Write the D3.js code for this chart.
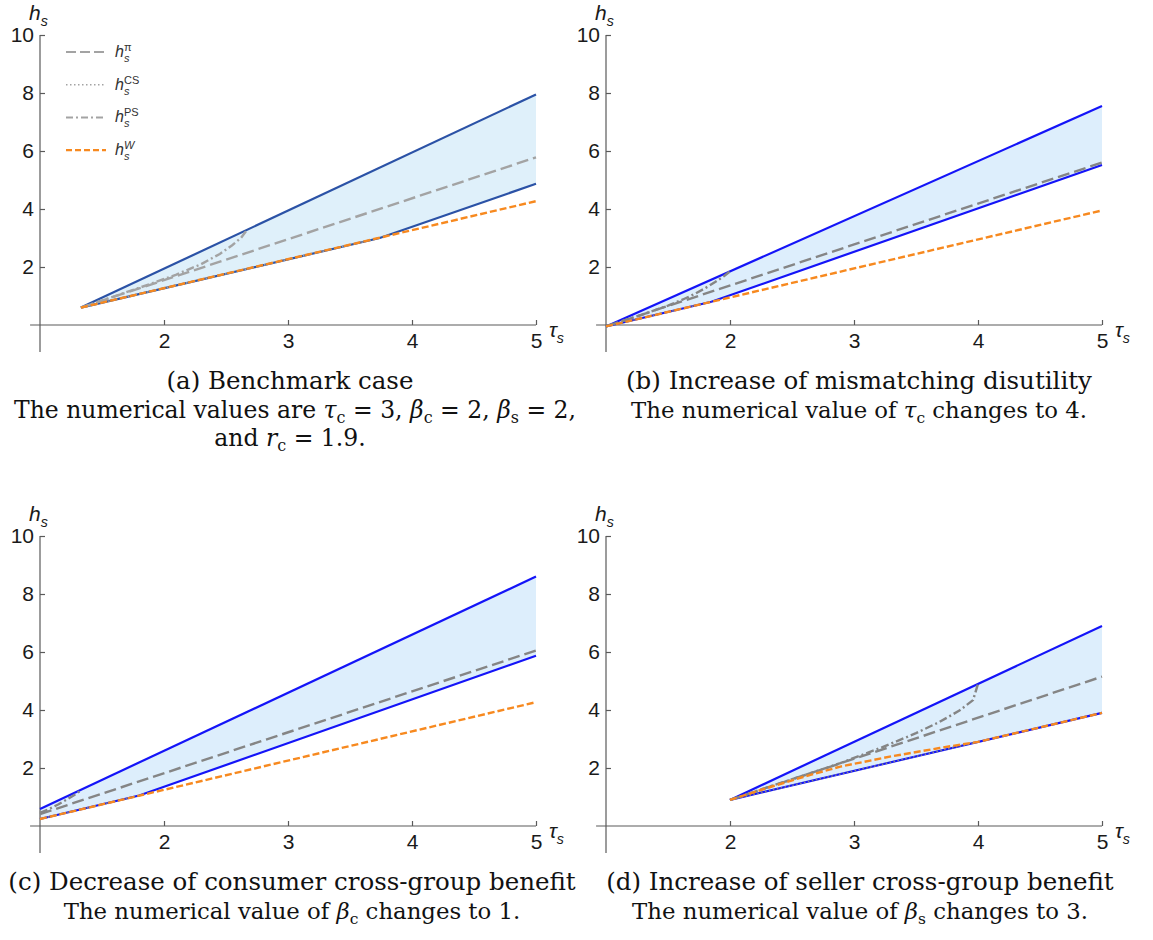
<!DOCTYPE html>
<html><head><meta charset="utf-8">
<script src="https://cdn.jsdelivr.net/npm/d3@7"></script>
<style>body{margin:0;background:#fff}</style>
</head><body>
<svg id="chart" width="1153" height="940"></svg>
<script>
// ---------- DATA ----------
const xTicks = [2, 3, 4, 5];
const yTicks = [2, 4, 6, 8, 10];

// Panel (a) benchmark
const tauA_up = [1.33, 5],        hA_up = [0.6, 7.95];
const tauA_lo = [1.33, 3.74, 5],  hA_lo = [0.6, 3.0, 4.87];
const tauA_pi = [1.33, 5],        hA_pi = [0.6, 5.78];
const tauA_cs = [1.33, 3.74],     hA_cs = [0.6, 3.0];
const tauA_ps = [1.33, 1.6, 1.9, 2.1, 2.3, 2.45, 2.55, 2.62, 2.67];
const hA_ps   = [0.6, 0.99, 1.43, 1.74, 2.1, 2.45, 2.75, 3.0, 3.28];
const tauA_w  = [1.33, 5],        hA_w = [0.6, 4.27];

// Panel (b) tau_c = 4
const tauB_up = [1, 5],           hB_up = [-0.05, 7.55];
const tauB_lo = [1, 1.85, 5],     hB_lo = [-0.05, 0.8, 5.52];
const tauB_pi = [1, 5],           hB_pi = [-0.05, 5.6];
const tauB_cs = [1, 1.85],        hB_cs = [-0.05, 0.8];
const tauB_ps = [1, 1.3, 1.5, 1.62, 1.72, 1.8, 1.88, 1.95, 2.0];
const hB_ps   = [-0.05, 0.37, 0.67, 0.88, 1.08, 1.27, 1.48, 1.68, 1.85];
const tauB_w  = [1, 5],           hB_w = [-0.05, 3.95];

// Panel (c) beta_c = 1
const tauC_up = [1, 5],           hC_up = [0.59, 8.6];
const tauC_lo = [1, 1.8, 5],      hC_lo = [0.24, 1.05, 5.87];
const tauC_pi = [1, 5],           hC_pi = [0.41, 6.05];
const tauC_cs = [1, 1.8],         hC_cs = [0.24, 1.05];
const tauC_ps = [1, 1.08, 1.15, 1.22, 1.28, 1.32];
const hC_ps   = [0.45, 0.6, 0.75, 0.92, 1.08, 1.2];
const tauC_w  = [1, 5],           hC_w = [0.24, 4.27];

// Panel (d) beta_s = 3
const tauD_up = [2, 5],           hD_up = [0.9, 6.9];
const tauD_lo = [2, 5],           hD_lo = [0.9, 3.9];
const tauD_pi = [2, 5],           hD_pi = [0.9, 5.15];
const tauD_cs = [2, 4],           hD_cs = [0.9, 2.9];
const tauD_ps = [2, 2.3, 2.6, 2.89, 3.23, 3.5, 3.69, 3.85, 3.96, 4.0];
const hD_ps   = [0.9, 1.33, 1.75, 2.17, 2.72, 3.2, 3.59, 3.98, 4.34, 4.9];
const tauD_w  = [2, 2.3, 2.59, 2.89, 3.3, 3.69, 4.0, 5];
const hD_w    = [0.9, 1.31, 1.69, 2.05, 2.4, 2.69, 2.9, 3.9];

// ---------- HELPERS ----------
const zip = (t, h) => t.map((v, i) => [v, h[i]]);
const svg = d3.select('#chart');

function mathText(g, x, y, segs, size, anchor, family) {
  const t = g.append('text').attr('x', x).attr('y', y)
    .attr('text-anchor', anchor).attr('font-family', family)
    .attr('font-size', size).attr('fill', '#111');
  let shift = 0;
  segs.forEach(s => {
    const [txt, kind] = Array.isArray(s) ? s : [s, 'n'];
    const sp = t.append('tspan').text(txt);
    let target = 0;
    if (kind === 'sub') { target = size * 0.2; sp.attr('font-size', size * 0.68); }
    if (kind === 'i') sp.attr('font-style', 'italic');
    if (target !== shift) { sp.attr('dy', target - shift); shift = target; }
  });
  return t;
}

function axisLabel(g, x, y, main, sub, size) {
  const t = g.append('text').attr('x', x).attr('y', y)
    .attr('font-family', 'Liberation Sans, Arial, sans-serif')
    .attr('font-size', size).attr('fill', '#1a1a1a');
  t.append('tspan').attr('font-style', 'italic').text(main);
  t.append('tspan').attr('font-style', 'italic').attr('font-size', size * 0.68)
    .attr('dy', size * 0.27).text(sub);
}

const panels = [
  { x0: 40,  y0: 325, blue: '#2b52a6', gray: '#a3a3a3', fill: '#dff0fa',
    up: zip(tauA_up, hA_up), lo: zip(tauA_lo, hA_lo), pi: zip(tauA_pi, hA_pi),
    cs: zip(tauA_cs, hA_cs), ps: zip(tauA_ps, hA_ps), w: zip(tauA_w, hA_w), legend: true },
  { x0: 606, y0: 325, blue: '#1414f8', gray: '#858585', fill: '#ddeefc',
    up: zip(tauB_up, hB_up), lo: zip(tauB_lo, hB_lo), pi: zip(tauB_pi, hB_pi),
    cs: zip(tauB_cs, hB_cs), ps: zip(tauB_ps, hB_ps), w: zip(tauB_w, hB_w) },
  { x0: 40,  y0: 826, blue: '#1414f8', gray: '#858585', fill: '#ddeefc',
    up: zip(tauC_up, hC_up), lo: zip(tauC_lo, hC_lo), pi: zip(tauC_pi, hC_pi),
    cs: zip(tauC_cs, hC_cs), ps: zip(tauC_ps, hC_ps), w: zip(tauC_w, hC_w) },
  { x0: 606, y0: 826, blue: '#1414f8', gray: '#858585', fill: '#ddeefc',
    up: zip(tauD_up, hD_up), lo: zip(tauD_lo, hD_lo), pi: zip(tauD_pi, hD_pi),
    cs: zip(tauD_cs, hD_cs), ps: zip(tauD_ps, hD_ps), w: zip(tauD_w, hD_w) }
];

const orange = '#f7891f';

panels.forEach(p => {
  const g = svg.append('g');
  const x = d3.scaleLinear().domain([1, 5]).range([p.x0, p.x0 + 496]);
  const y = d3.scaleLinear().domain([0, 10]).range([p.y0, p.y0 - 290]);
  const line = d3.line().x(d => x(d[0])).y(d => y(d[1]));

  // fill region
  g.append('path').attr('d', line(p.up.concat(p.lo.slice().reverse())) + 'Z')
    .attr('fill', p.fill).attr('stroke', 'none');

  // axes lines
  const axCol = '#5a5a5a';
  g.append('line').attr('x1', x(0.92)).attr('x2', x(5)).attr('y1', y(0)).attr('y2', y(0))
    .attr('stroke', axCol).attr('stroke-width', 1.2);
  g.append('line').attr('x1', x(1)).attr('x2', x(1)).attr('y1', y(10)).attr('y2', y(-0.93))
    .attr('stroke', axCol).attr('stroke-width', 1.2);

  const xa = g.append('g').attr('transform', `translate(0,${y(0)})`)
    .call(d3.axisBottom(x).tickValues(xTicks).tickFormat(d3.format('d'))
      .tickSizeInner(-5).tickSizeOuter(0).tickPadding(8));
  const ya = g.append('g').attr('transform', `translate(${x(1)},0)`)
    .call(d3.axisLeft(y).tickValues(yTicks).tickFormat(d3.format('d'))
      .tickSizeInner(-5).tickSizeOuter(0).tickPadding(6));
  [xa, ya].forEach(a => {
    a.select('.domain').remove();
    a.selectAll('line').attr('stroke', axCol).attr('stroke-width', 1.2);
    a.selectAll('text').attr('font-family', 'Liberation Sans, Arial, sans-serif')
      .attr('font-size', 21).attr('fill', '#1a1a1a');
  });

  axisLabel(g, p.x0 - 11, p.y0 - 305, 'h', 's', 21);
  axisLabel(g, p.x0 + 509, p.y0 + 12, 'τ', 's', 21);

  // curves
  g.append('path').attr('d', line(p.up)).attr('fill', 'none')
    .attr('stroke', p.blue).attr('stroke-width', 2.2);
  g.append('path').attr('d', line(p.lo)).attr('fill', 'none')
    .attr('stroke', p.blue).attr('stroke-width', 2.2);
  g.append('path').attr('d', line(p.pi)).attr('fill', 'none')
    .attr('stroke', p.gray).attr('stroke-width', 2.4).attr('stroke-dasharray', '12,5');
  g.append('path').attr('d', line(p.cs)).attr('fill', 'none')
    .attr('stroke', p.gray).attr('stroke-width', 1.6).attr('stroke-dasharray', '1.5,2.5');
  g.append('path').attr('d', line(p.ps)).attr('fill', 'none')
    .attr('stroke', p.gray).attr('stroke-width', 2.4).attr('stroke-dasharray', '8,3,2,3');
  g.append('path').attr('d', line(p.w)).attr('fill', 'none')
    .attr('stroke', orange).attr('stroke-width', 2.4).attr('stroke-dasharray', '7,3');

  if (p.legend) {
    const items = [
      { sup: 'π', dash: '10,4', col: '#a3a3a3', w: 2, supIt: false },
      { sup: 'CS', dash: '1.5,2.5', col: '#a3a3a3', w: 1.5, supIt: false },
      { sup: 'PS', dash: '7,3,2,3', col: '#a3a3a3', w: 2, supIt: false },
      { sup: 'W', dash: '6,3', col: orange, w: 2.2, supIt: true }
    ];
    items.forEach((it, i) => {
      const ly = 52 + i * 32.7;
      g.append('line').attr('x1', 66).attr('x2', 106).attr('y1', ly).attr('y2', ly)
        .attr('stroke', it.col).attr('stroke-width', it.w).attr('stroke-dasharray', it.dash);
      const fam = 'Liberation Sans, Arial, sans-serif';
      g.append('text').attr('x', 115).attr('y', ly + 5).attr('font-family', fam)
        .attr('font-size', 16).attr('font-style', 'italic').attr('fill', '#333').text('h');
      g.append('text').attr('x', 124).attr('y', ly + 10).attr('font-family', fam)
        .attr('font-size', 11).attr('font-style', 'italic').attr('fill', '#333').text('s');
      g.append('text').attr('x', 124).attr('y', ly - 1).attr('font-family', fam)
        .attr('font-size', 11).attr('font-style', it.supIt ? 'italic' : 'normal')
        .attr('fill', '#333').text(it.sup);
    });
  }
});

// ---------- CAPTIONS ----------
const capFont = 'DejaVu Serif, Liberation Serif, serif';
const titleSize = 24.5;
const noteSize = 22.8;
const capA1 = ['(a) Benchmark case'];
const capA2 = ['The numerical values are ', ['τ', 'i'], ['c', 'sub'], ' = 3, ', ['β', 'i'], ['c', 'sub'],
  ' = 2, ', ['β', 'i'], ['s', 'sub'], ' = 2,'];
const capA3 = ['and ', ['r', 'i'], ['c', 'sub'], ' = 1.9.'];
const capB1 = ['(b) Increase of mismatching disutility'];
const capB2 = ['The numerical value of ', ['τ', 'i'], ['c', 'sub'], ' changes to 4.'];
const capC1 = ['(c) Decrease of consumer cross-group benefit'];
const capC2 = ['The numerical value of ', ['β', 'i'], ['c', 'sub'], ' changes to 1.'];
const capD1 = ['(d) Increase of seller cross-group benefit'];
const capD2 = ['The numerical value of ', ['β', 'i'], ['s', 'sub'], ' changes to 3.'];

const cg = svg.append('g');
mathText(cg, 290, 389, capA1, titleSize, 'middle', capFont);
mathText(cg, 295, 418, capA2, 23.5, 'middle', capFont);
mathText(cg, 290, 446, capA3, 23.5, 'middle', capFont);
mathText(cg, 859, 389, capB1, titleSize, 'middle', capFont);
mathText(cg, 859, 418, capB2, noteSize, 'middle', capFont);
mathText(cg, 292, 890, capC1, titleSize, 'middle', capFont);
mathText(cg, 292, 919, capC2, noteSize, 'middle', capFont);
mathText(cg, 860, 890, capD1, titleSize, 'middle', capFont);
mathText(cg, 860, 919, capD2, noteSize, 'middle', capFont);
</script>
</body></html>
